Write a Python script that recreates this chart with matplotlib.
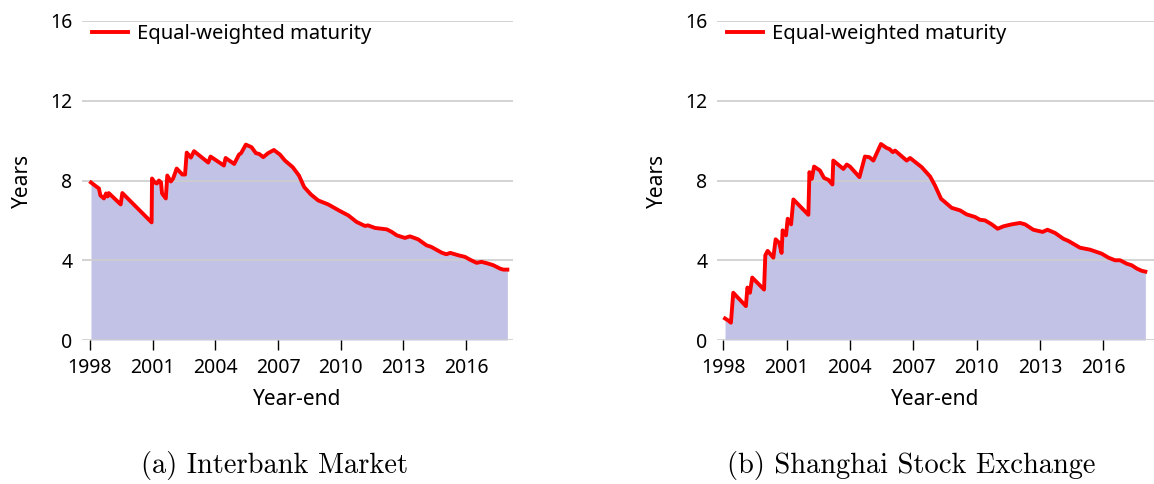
import matplotlib.pyplot as plt

plt.rcParams['font.family'] = ['Noto Sans', 'DejaVu Sans']

# Equal-weighted maturity
ib_year = [1998.05, 1998.3, 1998.43, 1998.5, 1998.67, 1998.77, 1998.85, 1998.9, 1999.47, 1999.55,
           2000.95, 2000.97, 2001.1, 2001.2, 2001.3, 2001.4, 2001.45, 2001.63, 2001.7, 2001.87,
           2001.98, 2002.15, 2002.42, 2002.55, 2002.63, 2002.83, 2002.98, 2003.66, 2003.77, 2004.41,
           2004.49, 2004.9, 2005.13, 2005.23, 2005.46, 2005.73, 2005.94, 2006.1, 2006.29, 2006.52,
           2006.8, 2007.09, 2007.33, 2007.7, 2008.0, 2008.25, 2008.57, 2008.92, 2009.4, 2009.96,
           2010.36, 2010.76, 2011.16, 2011.3, 2011.64, 2012.2, 2012.44, 2012.68, 2013.07, 2013.31,
           2013.7, 2014.1, 2014.33, 2014.83, 2015.05, 2015.24, 2015.62, 2015.94, 2016.18, 2016.5,
           2016.73, 2017.06, 2017.3, 2017.62, 2017.78, 2017.97]
ib_mat = [7.9, 7.7, 7.6, 7.25, 7.1, 7.35, 7.2, 7.37, 6.8, 7.37,
          5.9, 8.1, 7.9, 7.85, 8.0, 7.9, 7.35, 7.1, 8.25, 7.95,
          8.1, 8.6, 8.3, 8.3, 9.4, 9.15, 9.47, 8.9, 9.2, 8.75,
          9.13, 8.83, 9.3, 9.37, 9.8, 9.67, 9.37, 9.33, 9.17, 9.37,
          9.53, 9.3, 9.0, 8.67, 8.25, 7.67, 7.3, 7.0, 6.8, 6.47,
          6.25, 5.92, 5.72, 5.75, 5.62, 5.55, 5.42, 5.25, 5.12, 5.2,
          5.05, 4.75, 4.67, 4.38, 4.3, 4.37, 4.25, 4.17, 4.03, 3.87,
          3.92, 3.83, 3.75, 3.58, 3.53, 3.53]

sh_year = [1998.08, 1998.24, 1998.36, 1998.47, 1999.07, 1999.14, 1999.26, 1999.37, 1999.93, 1999.99,
           2000.1, 2000.37, 2000.48, 2000.65, 2000.76, 2000.81, 2000.97, 2001.05, 2001.21, 2001.32,
           2002.03, 2002.08, 2002.19, 2002.3, 2002.58, 2002.77, 2002.98, 2003.17, 2003.21, 2003.69,
           2003.85, 2004.0, 2004.45, 2004.71, 2004.92, 2005.11, 2005.47, 2005.74, 2005.87, 2006.03,
           2006.14, 2006.69, 2006.85, 2007.4, 2007.8, 2008.03, 2008.32, 2008.5, 2008.82, 2009.22,
           2009.53, 2009.93, 2010.16, 2010.4, 2010.72, 2011.0, 2011.27, 2011.66, 2012.06, 2012.3,
           2012.69, 2013.13, 2013.36, 2013.72, 2014.11, 2014.35, 2014.9, 2015.14, 2015.38, 2015.93,
           2016.25, 2016.56, 2016.8, 2017.11, 2017.35, 2017.6, 2017.83, 2018.0]
sh_mat = [1.08, 0.97, 0.87, 2.37, 1.7, 2.63, 2.37, 3.13, 2.53, 4.25,
          4.47, 4.13, 5.05, 4.87, 4.37, 5.5, 5.25, 6.08, 5.8, 7.05,
          6.28, 8.42, 8.08, 8.7, 8.5, 8.13, 8.03, 7.8, 9.0, 8.58,
          8.8, 8.7, 8.17, 9.2, 9.17, 9.0, 9.83, 9.63, 9.58, 9.42,
          9.5, 9.0, 9.13, 8.67, 8.2, 7.75, 7.08, 6.92, 6.63, 6.5,
          6.3, 6.17, 6.03, 6.0, 5.8, 5.58, 5.7, 5.8, 5.87, 5.8,
          5.53, 5.42, 5.53, 5.37, 5.08, 4.97, 4.63, 4.58, 4.53, 4.33,
          4.13, 4.0, 4.0, 3.83, 3.75, 3.58, 3.47, 3.43]

year_ticks = [1998, 2001, 2004, 2007, 2010, 2013, 2016]
y_ticks = [0, 4, 8, 12, 16]

W, H = 1154, 484
fig = plt.figure(figsize=(W / 100, H / 100), dpi=100)


def panel(px_left, px_right, xlim, years, vals, caption, cap_x):
    ax = fig.add_axes([px_left / W, (H - 340) / H, (px_right - px_left) / W, 319 / H])
    ax.fill_between(years, vals, 0, color='#c2c2e6', linewidth=0, zorder=1)
    ax.plot(years, vals, color='red', linewidth=2.8, zorder=3, label='Equal-weighted maturity')
    ax.set_xlim(*xlim)
    ax.set_ylim(0, 16)
    ax.set_yticks(y_ticks)
    ax.set_xticks(year_ticks)
    ax.grid(axis='y', color='#cccccc', linewidth=1.2, zorder=2)
    for s in ax.spines.values():
        s.set_visible(False)
    ax.tick_params(axis='y', length=0, pad=7, labelsize=14)
    ax.tick_params(axis='x', length=7, width=1, color='black', pad=6, labelsize=14)
    ax.set_xlabel('Year-end', fontsize=15, labelpad=8)
    ax.set_ylabel('Years', fontsize=15, labelpad=12)
    ax.legend(loc='upper left', bbox_to_anchor=(0.005, 1.015), frameon=False, fontsize=14.5,
              handlelength=1.8, handletextpad=0.4, borderaxespad=0)
    fig.text(cap_x / W, 1 - 466 / H, caption, family='cmr10', fontsize=20.5,
             ha='center', va='center')
    return ax


panel(82, 513, (1997.62, 2018.24), ib_year, ib_mat, '(a) Interbank Market', 275)
panel(717, 1154, (1997.7, 2018.41), sh_year, sh_mat, '(b) Shanghai Stock Exchange', 911)

fig.savefig('out.png', dpi=100)
